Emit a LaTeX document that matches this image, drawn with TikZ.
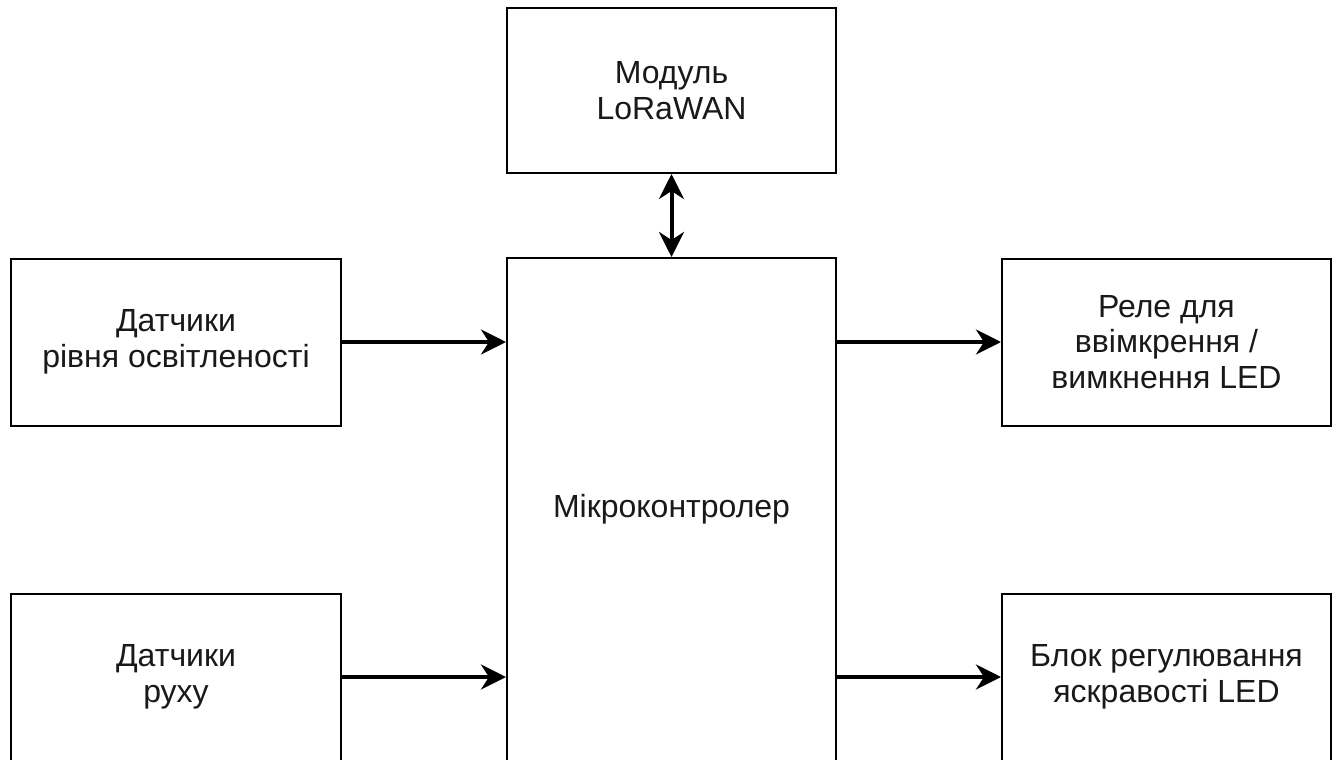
\documentclass[tikz,border=0pt]{standalone}
\usepackage{fontspec}
\setmainfont{Liberation Sans}
\usetikzlibrary{arrows.meta}
\begin{document}
\begin{tikzpicture}[x=1pt,y=-1pt,
  blk/.style={draw=black, line width=2pt, fill=white, align=center,
    font=\fontsize{32}{35.5}\selectfont, text=black!90, inner sep=0pt,
    execute at begin node={\vspace*{5pt}}},
  link/.style={line width=4pt, -{Stealth[length=25pt,width=25pt,inset=8pt]}},
  duplex/.style={line width=4pt, {Stealth[length=25pt,width=25pt,inset=8pt]}-{Stealth[length=25pt,width=25pt,inset=8pt]}}]
\useasboundingbox (0,0) rectangle (1339,760);
\clip (0,0) rectangle (1339,760);
\fill[white] (0,0) rectangle (1339,760);
% blocks (positions in px)
\node[blk, minimum width=329pt, minimum height=165pt] (lora) at (671.5,90.5) {Модуль\\LoRaWAN};
\node[blk, minimum width=329pt, minimum height=503pt] (mcu) at (671.5,509.5) {Мікроконтролер};
\node[blk, minimum width=330pt, minimum height=167pt] (light) at (176,342) {Датчики\\рівня освітленості};
\node[blk, minimum width=330pt, minimum height=167pt] (motion) at (176,677) {Датчики\\руху};
\node[blk, minimum width=329pt, minimum height=167pt] (relay) at (1166.5,342) {Реле для\\ввімкрення /\\вимкнення LED};
\node[blk, minimum width=329pt, minimum height=167pt] (dim) at (1166.5,677) {Блок регулювання\\яскравості LED};
% connectors
\draw[duplex] (lora.south) -- (mcu.north);
\draw[link] (light.east) -- (light.east -| mcu.west);
\draw[link] (motion.east) -- (motion.east -| mcu.west);
\draw[link] (relay.west -| mcu.east) -- (relay.west);
\draw[link] (dim.west -| mcu.east) -- (dim.west);
\end{tikzpicture}
\end{document}
